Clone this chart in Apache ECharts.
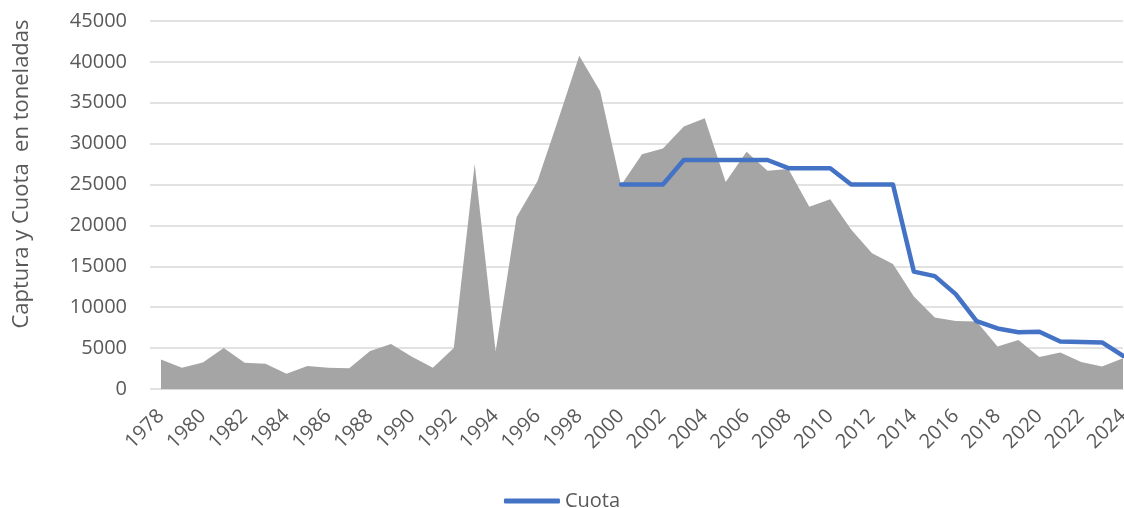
<!DOCTYPE html>
<html>
<head>
<meta charset="utf-8">
<script src="https://cdn.jsdelivr.net/npm/echarts@6/dist/echarts.min.js"></script>
<style>
  html, body { margin: 0; padding: 0; background: #fff; }
  #container { width: 1124px; height: 508px; }
</style>
</head>
<body>
<div id="container"></div>
<script>
var anios = [];
for (var a = 1978; a <= 2024; a++) { anios.push(String(a)); }

// captura anual (toneladas), 1978..2024
var captura = [3600, 2600, 3250, 5000, 3200, 3100, 1850, 2800, 2600, 2550,
               4650, 5500, 3950, 2600, 5000, 27500, 4600, 21000, 25400, 33000,
               40750, 36400, 24900, 28700, 29400, 32100, 33100, 25300, 29000, 26700,
               26900, 22300, 23200, 19500, 16600, 15300, 11300, 8750, 8300, 8250,
               5200, 6000, 3900, 4450, 3300, 2750, 3750];

// cuota, 1978..2024 (sin cuota antes de 2000)
var cuota = [null, null, null, null, null, null, null, null, null, null,
             null, null, null, null, null, null, null, null, null, null,
             null, null,
             25000, 25000, 25000, 28000, 28000, 28000, 28000, 28000,
             27000, 27000, 27000, 25000, 25000, 25000, 14350, 13800, 11600, 8300,
             7400, 6950, 7000, 5800, 5750, 5700, 4050];

var yTicks = { min: 0, max: 45000, interval: 5000 };
var fuente = "'Open Sans', sans-serif";
var gris = '#595959';

var dom = document.getElementById('container');
var myChart = echarts.init(dom);

var option = {
    animation: false,
    grid: [
        { left: 161, right: 1, top: 21, bottom: 119, containLabel: false, outerBoundsMode: 'none' },
        { left: 150, right: 1, top: 21, bottom: 119, containLabel: false, outerBoundsMode: 'none' }   // solo lineas de fondo
    ],
    legend: {
        data: ['Cuota'],
        bottom: -8,
        left: 'center',
        itemWidth: 56,
        itemHeight: 5,
        itemGap: 6,
        icon: 'roundRect',
        textStyle: { fontFamily: fuente, fontSize: 20, color: gris }
    },
    graphic: [{
        type: 'text',
        rotation: Math.PI / 2,
        x: 22, y: 174,
        style: {
            text: 'Captura y Cuota  en toneladas',
            font: '22px ' + fuente,
            fill: gris,
            align: 'center',
            verticalAlign: 'middle'
        }
    }],
    xAxis: [{
        type: 'category',
        gridIndex: 0,
        data: anios,
        boundaryGap: false,
        axisLine: { lineStyle: { color: '#D9D9D9', width: 1 } },
        axisTick: { show: false },
        axisLabel: {
            interval: 1,
            rotate: 45,
            color: gris,
            fontFamily: fuente,
            fontSize: 20,
            margin: 24
        }
    }, {
        type: 'category',
        gridIndex: 1,
        data: anios,
        show: false
    }],
    yAxis: [{
        type: 'value',
        gridIndex: 0,
        min: yTicks.min,
        max: yTicks.max,
        interval: yTicks.interval,
        splitLine: { show: false },
        axisLine: { show: false },
        axisTick: { show: false },
        axisLabel: {
            color: gris,
            fontFamily: fuente,
            fontSize: 20,
            margin: 34,
            formatter: function (v) { return String(v); }
        }
    }, {
        type: 'value',
        gridIndex: 1,
        min: yTicks.min,
        max: yTicks.max,
        interval: yTicks.interval,
        axisLabel: { show: false },
        axisLine: { show: false },
        axisTick: { show: false },
        splitLine: { lineStyle: { color: '#D9D9D9', width: 1.5 } }
    }],
    series: [
        {
            name: 'Captura',
            type: 'line',
            xAxisIndex: 0,
            yAxisIndex: 0,
            data: captura,
            symbol: 'none',
            lineStyle: { width: 0 },
            areaStyle: { color: '#A5A5A5', opacity: 1 },
            z: 2
        },
        {
            name: 'Cuota',
            type: 'line',
            xAxisIndex: 0,
            yAxisIndex: 0,
            data: cuota,
            symbol: 'none',
            color: '#4472C4',
            lineStyle: { color: '#4472C4', width: 4.5, cap: 'round', join: 'round' },
            z: 3
        }
    ]
};

myChart.setOption(option, true);
window.onresize = function() {
    myChart.resize();
};
</script>
</body>
</html>
